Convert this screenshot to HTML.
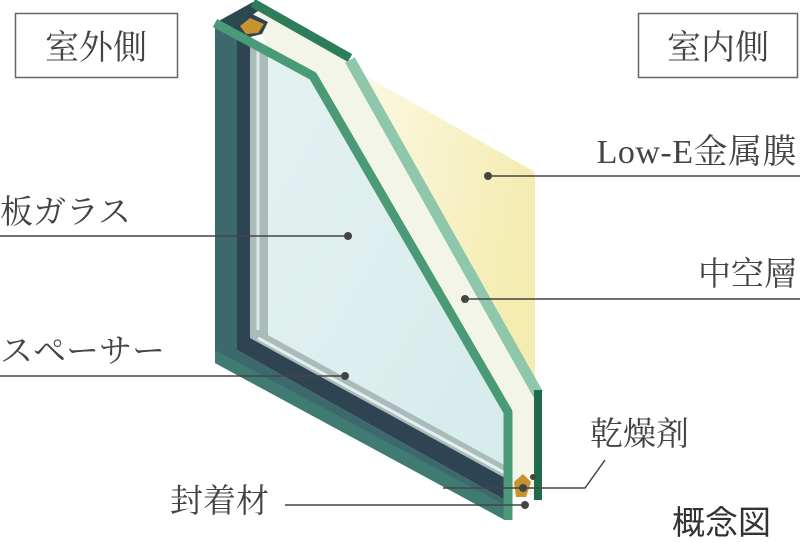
<!DOCTYPE html>
<html><head><meta charset="utf-8"><style>
html,body{margin:0;padding:0;background:#fff}
svg{display:block}
text{font-family:"Liberation Serif","Noto Serif CJK SC",serif;fill:#444}
.g{font-family:"Liberation Sans","Noto Sans CJK JP",sans-serif;fill:#333}
</style></head><body>
<svg width="800" height="542" viewBox="0 0 800 542" xmlns="http://www.w3.org/2000/svg">
<defs>
<linearGradient id="yel" x1="0" y1="0" x2="1" y2="0.3">
<stop offset="0" stop-color="#fbf9e6"/><stop offset="1" stop-color="#f4ecb0"/>
</linearGradient>
<linearGradient id="gl" x1="0" y1="0" x2="1" y2="1">
<stop offset="0" stop-color="#e3f2f1"/><stop offset="1" stop-color="#d6ebea"/>
</linearGradient>
</defs>
<rect x="15.5" y="13.5" width="162" height="64" fill="#fff" stroke="#666" stroke-width="1.5"/>
<text x="96" y="59" font-size="34" text-anchor="middle">室外側</text>
<rect x="638.5" y="13.5" width="159" height="64" fill="#fff" stroke="#666" stroke-width="1.5"/>
<text x="718" y="59" font-size="34" text-anchor="middle">室内側</text>

<polygon points="355,70 535,172 535,392 520,385" fill="url(#yel)"/>
<polygon points="253,6 350,62 536,394 536,495 512,495 512,412 316,76 268,50" fill="#f2f5e8"/>
<polygon points="215,23 237,32 237,350 505,500 505,520 215,363" fill="#3c6a6c"/>
<polygon points="237,32 252,40 252,335 505,472 505,500 237,350" fill="#2e4452"/>
<polygon points="250,40 268,48 268,335 505,465 505,478 250,338" fill="#a9bcbb"/>
<line x1="258" y1="44" x2="258" y2="330" stroke="#dfe8e8" stroke-width="3"/>
<line x1="258" y1="338" x2="505" y2="473" stroke="#e6eeee" stroke-width="3"/>
<polygon points="268,52 313,78 506,412 506,466 268,335" fill="url(#gl)"/>
<polygon points="215,350 505,505 505,520 215,363" fill="#3f7a73"/>
<polygon points="215,23 253,2 262,8 232,30 240,36 222,30" fill="#2a4a50"/>
<polygon points="232,28 252,14 268,22 262,34 246,38" fill="#2e4452"/>
<polyline points="215,23 313,76 508,412 508,520" fill="none" stroke="#4a9a78" stroke-width="9" stroke-linejoin="bevel"/>
<polyline points="253,3 350,58" fill="none" stroke="#2d7d5a" stroke-width="9"/>
<polyline points="350,60 538,394" fill="none" stroke="#8fc7ad" stroke-width="11"/>
<line x1="538" y1="390" x2="538" y2="500" stroke="#1f6b4a" stroke-width="8"/>
<polygon points="240,26 250,18 264,24 258,33 246,34" fill="#c8922e"/>
<polygon points="514,482 523,474 531,482 526,497 516,497" fill="#c8922e"/>

<g stroke="#444" stroke-width="1.5" fill="none">
<line x1="488" y1="176" x2="800" y2="176"/>
<line x1="0" y1="236" x2="348" y2="236"/>
<line x1="465" y1="299" x2="800" y2="299"/>
<line x1="0" y1="376" x2="345" y2="376"/>
<polyline points="443,488 585,488 605,460"/>
<line x1="285" y1="505" x2="525" y2="505"/>
</g>
<g fill="#444">
<circle cx="488" cy="176" r="4"/>
<circle cx="348" cy="236" r="4"/>
<circle cx="465" cy="299" r="4"/>
<circle cx="345" cy="376" r="4"/>
<circle cx="523" cy="488" r="4"/>
<circle cx="533" cy="477" r="3"/>
<circle cx="525" cy="505" r="4"/>
</g>
<text x="797" y="163" font-size="34" text-anchor="end" letter-spacing="0.5">Low-E金属膜</text>
<text x="0" y="223" font-size="33">板ガラス</text>
<text x="797" y="285" font-size="33" text-anchor="end">中空層</text>
<text x="0" y="362" font-size="33">スペーサー</text>
<text x="590" y="445" font-size="33">乾燥剤</text>
<text x="170" y="512" font-size="33">封着材</text>
<text class="g" x="672" y="534" font-size="33">概念図</text>
</svg>
</body></html>
